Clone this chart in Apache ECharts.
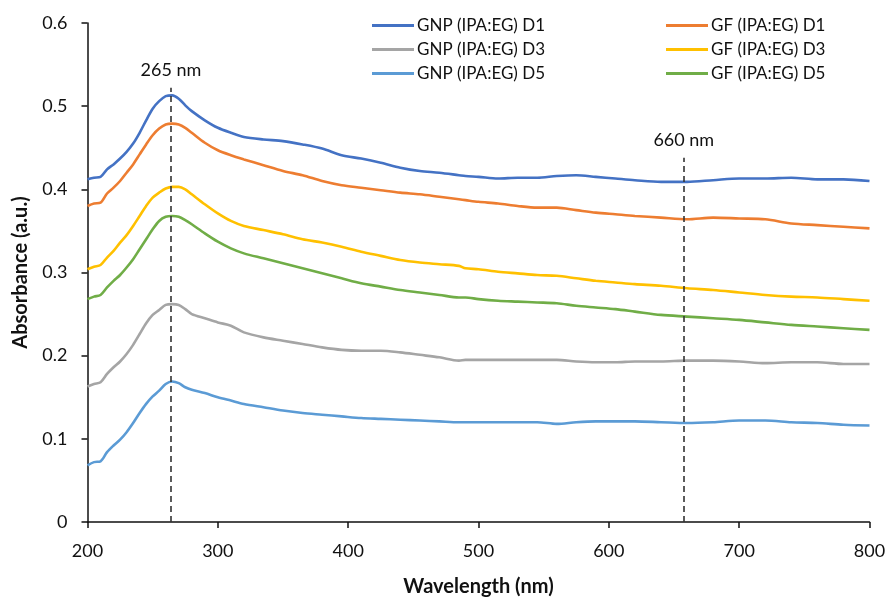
<!DOCTYPE html>
<html>
<head>
<meta charset="utf-8">
<script src="https://cdn.jsdelivr.net/npm/echarts@6/dist/echarts.min.js"></script>
<style>html,body{margin:0;padding:0;background:#fff;}#chart{width:888px;height:597px;}</style>
</head>
<body>
<div id="chart"></div>
<script>
const wavelengths = [200,205,210,215,220,225,230,235,240,245,250,255,260,265,270,275,280,290,300,310,320,335,350,365,380,395,410,425,440,455,470,485,490,500,515,530,545,560,575,590,605,620,640,660,680,700,720,740,760,780,800];

const gnpD1 = [0.412,0.414,0.415,0.424,0.430,0.437,0.445,0.455,0.468,0.483,0.497,0.506,0.512,0.513,0.509,0.501,0.494,0.483,0.474,0.468,0.463,0.460,0.458,0.454,0.449,0.441,0.437,0.432,0.426,0.422,0.420,0.417,0.416,0.415,0.413,0.414,0.414,0.416,0.417,0.415,0.413,0.411,0.409,0.409,0.411,0.413,0.413,0.414,0.412,0.412,0.410];
const gfD1 = [0.380,0.383,0.384,0.395,0.402,0.410,0.420,0.430,0.442,0.454,0.465,0.473,0.478,0.479,0.478,0.474,0.468,0.456,0.447,0.441,0.436,0.429,0.422,0.417,0.410,0.405,0.402,0.399,0.396,0.394,0.391,0.388,0.387,0.385,0.383,0.380,0.378,0.378,0.375,0.372,0.370,0.368,0.366,0.364,0.366,0.365,0.364,0.359,0.357,0.355,0.353];
const gnpD3 = [0.163,0.166,0.168,0.178,0.186,0.193,0.202,0.213,0.226,0.239,0.249,0.255,0.261,0.262,0.261,0.256,0.250,0.245,0.240,0.236,0.228,0.222,0.218,0.214,0.210,0.207,0.206,0.206,0.204,0.201,0.198,0.194,0.195,0.195,0.195,0.195,0.195,0.195,0.193,0.192,0.192,0.193,0.193,0.194,0.194,0.193,0.191,0.192,0.192,0.190,0.190];
const gfD3 = [0.304,0.307,0.309,0.318,0.326,0.336,0.345,0.356,0.368,0.380,0.390,0.396,0.401,0.403,0.403,0.400,0.394,0.382,0.371,0.362,0.356,0.351,0.346,0.340,0.336,0.331,0.325,0.320,0.315,0.312,0.310,0.308,0.305,0.304,0.301,0.299,0.297,0.296,0.293,0.290,0.288,0.286,0.284,0.281,0.279,0.276,0.273,0.271,0.270,0.268,0.266];
const gnpD5 = [0.068,0.072,0.073,0.084,0.092,0.099,0.108,0.119,0.131,0.142,0.151,0.158,0.166,0.169,0.167,0.162,0.159,0.155,0.150,0.146,0.142,0.138,0.134,0.131,0.129,0.127,0.125,0.124,0.123,0.122,0.121,0.120,0.120,0.120,0.120,0.120,0.120,0.118,0.120,0.121,0.121,0.121,0.120,0.119,0.120,0.122,0.122,0.120,0.119,0.117,0.116];
const gfD5 = [0.268,0.271,0.273,0.282,0.290,0.297,0.306,0.316,0.328,0.340,0.352,0.362,0.367,0.368,0.367,0.363,0.358,0.347,0.337,0.329,0.323,0.317,0.311,0.305,0.299,0.293,0.287,0.283,0.279,0.276,0.273,0.270,0.270,0.268,0.266,0.265,0.264,0.263,0.260,0.258,0.256,0.253,0.249,0.247,0.245,0.243,0.240,0.237,0.235,0.233,0.231];

const seriesNames = ['GNP (IPA:EG) D1','GF (IPA:EG) D1','GNP (IPA:EG) D3','GF (IPA:EG) D3','GNP (IPA:EG) D5','GF (IPA:EG) D5'];
const seriesValues = [gnpD1, gfD1, gnpD3, gfD3, gnpD5, gfD5];
const seriesColors = ['#4472C4','#ED7D31','#A5A5A5','#FFC000','#5B9BD5','#70AD47'];

const refLines = [264, 657.5];
const refLabels = ['265 nm', '660 nm'];
const refTops = [0.522, 0.438];

const FONT = 'Lato, "Open Sans", sans-serif';

const chart = echarts.init(document.getElementById('chart'), null, {renderer: 'canvas'});

const series = seriesNames.map((name, i) => ({
  name: name,
  type: 'line',
  data: wavelengths.map((w, j) => [w, seriesValues[i][j]]),
  showSymbol: false,
  symbol: 'none',
  smooth: 0.3,
  lineStyle: {color: seriesColors[i], width: 2.6},
  itemStyle: {color: seriesColors[i]},
  z: 3
}));

series.push({
  name: 'ref',
  type: 'line',
  data: [],
  silent: true,
  markLine: {
    silent: true,
    symbol: ['none', 'none'],
    animation: false,
    lineStyle: {color: '#333', type: [6, 4], width: 1.6},
    label: {show: true, position: 'end', color: '#111', fontSize: 18, fontFamily: FONT, distance: 9},
    data: refLines.map((x, k) => [
      {coord: [x, 0]},
      {coord: [x, refTops[k]], label: {formatter: refLabels[k]}}
    ])
  },
  z: 2
});

const legendCommon = {
  orient: 'vertical',
  top: 11,
  icon: 'rect',
  itemWidth: 42,
  itemHeight: 3,
  itemGap: 5,
  textStyle: {fontSize: 17, color: '#111', fontFamily: FONT, lineHeight: 19, padding: [0,0,0,-2]}
};

chart.setOption({
  animation: false,
  backgroundColor: '#fff',
  grid: {left: 87.5, right: 18.5, top: 23, bottom: 75, containLabel: false, outerBoundsMode: 'none'},
  legend: [
    Object.assign({}, legendCommon, {left: 367, data: [seriesNames[0], seriesNames[2], seriesNames[4]]}),
    Object.assign({}, legendCommon, {left: 661, data: [seriesNames[1], seriesNames[3], seriesNames[5]]})
  ],
  xAxis: {
    type: 'value', min: 200, max: 800, interval: 100,
    name: 'Wavelength (nm)', nameLocation: 'middle', nameGap: 55,
    nameTextStyle: {fontSize: 20, fontWeight: 'bold', color: '#111', fontFamily: FONT},
    axisLine: {show: true, lineStyle: {color: '#111', width: 1.5}},
    axisTick: {show: true, length: 6, lineStyle: {color: '#111', width: 1.5}},
    axisLabel: {fontSize: 18, color: '#111', fontFamily: FONT, margin: 20},
    splitLine: {show: false}
  },
  yAxis: {
    type: 'value', min: 0, max: 0.6, interval: 0.1,
    name: 'Absorbance (a.u.)', nameLocation: 'middle', nameGap: 57,
    nameTextStyle: {fontSize: 20, fontWeight: 'bold', color: '#111', fontFamily: FONT},
    axisLine: {show: true, lineStyle: {color: '#111', width: 1.5}},
    axisTick: {show: true, length: 6, lineStyle: {color: '#111', width: 1.5}},
    axisLabel: {fontSize: 18, color: '#111', fontFamily: FONT, margin: 20},
    splitLine: {show: false}
  },
  series: series
});
</script>
</body>
</html>
